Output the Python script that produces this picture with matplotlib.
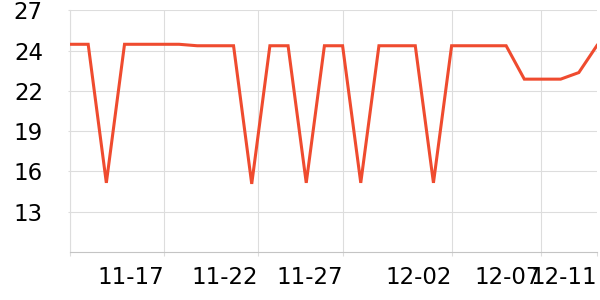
import numpy as np
import pandas as pd
import matplotlib
matplotlib.use("Agg")
import matplotlib.pyplot as plt

# sample timestamps (irregular) and readings
times = pd.to_datetime([
    "2023-11-11 19:12", "2023-11-12 19:12", "2023-11-13 19:12", "2023-11-14 19:12",
    "2023-11-15 19:12", "2023-11-16 19:12", "2023-11-17 19:12", "2023-11-18 15:36",
    "2023-11-19 15:36", "2023-11-20 15:36", "2023-11-21 15:36", "2023-11-22 15:36",
    "2023-11-23 23:50", "2023-11-24 23:50", "2023-11-25 23:50", "2023-11-26 23:50",
    "2023-11-27 08:00", "2023-11-28 08:00", "2023-11-29 08:00", "2023-11-30 08:00",
    "2023-12-01 08:00", "2023-12-02 00:00", "2023-12-03 02:24", "2023-12-04 02:24",
    "2023-12-05 02:24", "2023-12-06 02:24", "2023-12-07 02:24", "2023-12-08 12:00",
    "2023-12-09 18:00", "2023-12-11 00:00",
])
values = [
    24.68, 24.68, 15.22, 24.68, 24.68, 24.68, 24.68, 24.58, 24.58, 24.58,
    15.15, 24.58, 24.58, 15.22, 24.58, 24.58, 15.22, 24.58, 24.58, 24.58,
    15.22, 24.58, 24.58, 24.58, 24.58, 22.30, 22.30, 22.30, 22.75, 24.60,
]
tick_dates = pd.to_datetime(["2023-11-17", "2023-11-22", "2023-11-27",
                             "2023-12-02", "2023-12-07", "2023-12-11"])
tick_labels = ["11-17", "11-22", "11-27", "12-02", "12-07", "12-11"]

y_min, y_max = 10.5, 27.0
line_color = "#ef4b2f"
grid_color = "#dddddd"

# timeseries-style axis: points evenly spaced, ticks placed between them by time
idx = np.arange(len(times))
t_num = times.values.astype("int64")
tick_pos = np.interp(tick_dates.values.astype("int64"), t_num, idx)

fig = plt.figure(figsize=(6, 3), dpi=100)
ax = fig.add_axes([70 / 600, 48 / 300, 527 / 600, 241.7 / 300])

ax.plot(idx, values, color=line_color, lw=2.2, solid_joinstyle="miter", zorder=3)

ax.set_xlim(idx[0], idx[-1])
ax.set_ylim(y_min, y_max)

yt = np.linspace(y_min, y_max, 7)[1:]
ax.set_yticks(yt)
ax.set_yticklabels([f"{v:.0f}" for v in yt])

ax.set_xticks([idx[0]] + list(tick_pos))
ax.set_xticklabels([""] + tick_labels)
plt.setp(ax.get_xticklabels(), ha="right")

ax.grid(True, color=grid_color, lw=0.8)
ax.set_axisbelow(True)
ax.xaxis.get_gridlines()[-1].set_visible(False)

for side in ["top", "right"]:
    ax.spines[side].set_visible(False)
ax.spines["left"].set_color(grid_color)
ax.spines["left"].set_linewidth(0.8)
ax.spines["bottom"].set_color("#c4c4c4")
ax.spines["bottom"].set_linewidth(0.8)

ax.tick_params(axis="x", length=3, color=grid_color, pad=7, labelsize=16.5)
ax.tick_params(axis="y", length=1.5, color=grid_color, pad=18, labelsize=16.5)

fig.savefig("out.png", dpi=100)
